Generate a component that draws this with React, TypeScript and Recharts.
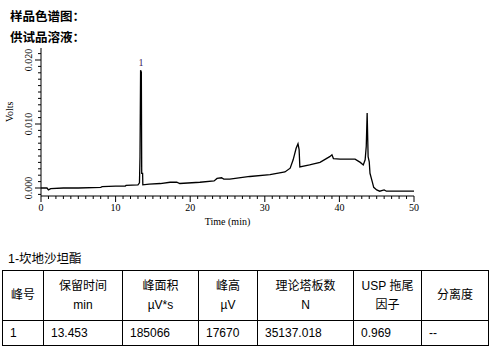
import { LineChart, Line, XAxis, YAxis, ReferenceDot } from 'recharts';

const TIME = [
  0, 0.8, 1.0, 1.3, 3, 5, 8, 8.2, 10, 11.3, 11.4, 13.0, 13.2, 13.27, 13.35, 13.45, 13.5, 13.62, 13.65,
  14.5, 16, 17.3, 18.2, 18.6, 21.3, 23.2, 23.6, 24.2, 24.5, 25.3, 28, 30.7, 32.7, 33.4, 33.8, 34.2,
  34.45, 34.6, 34.7, 36, 37.4, 38.7, 39.0, 39.2, 40.1, 42.1, 42.8, 43.2, 43.45, 43.6, 43.72, 43.85,
  44.0, 44.1, 44.4, 44.6, 45.0, 45.4, 46.0, 46.3, 50,
];
const VOLTS = [
  0.0, 0.0, -0.0003, -0.0001, 0.0, 0.0, 0.0001, 0.0002, 0.0003, 0.0003, 0.0004, 0.0005, 0.0008, 0.0048,
  0.0184, 0.0181, 0.0023, 0.0023, 0.0005,
  0.0006, 0.0007, 0.0009, 0.0009, 0.0007, 0.0009, 0.0011, 0.0015, 0.0016, 0.0014, 0.0014, 0.0018, 0.0021,
  0.0025, 0.0031, 0.0044, 0.0062, 0.0069, 0.006, 0.0033, 0.0036, 0.004, 0.0049, 0.0052, 0.0046, 0.0045,
  0.0045, 0.004, 0.0036, 0.0044, 0.0065, 0.0117, 0.0049, 0.0041, 0.0023, 0.001, 0.0001, -0.0003,
  -0.0005, -0.0003, -0.0005, -0.0005,
];

const X_MAJOR = [0, 10, 20, 30, 40, 50];
const X_LABELS = ['0', '10', '20', '30', '40', '50'];
const Y_MAJOR = [0, 0.01, 0.02];
const Y_LABELS = ['0.000', '0.010', '0.020'];

const PEAK_NAME = '1';
const PEAK_TIME = 13.4;
const PEAK_VOLTS = 0.0184;

const HEADERS = [['峰号'], ['保留时间', 'min'], ['峰面积', 'µV*s'], ['峰高', 'µV'], ['理论塔板数', 'N'], ['USP 拖尾', '因子'], ['分离度']];
const ROW = ['1', '13.453', '185066', '17670', '35137.018', '0.969', '--'];
const COL_W = [41, 79, 76, 59, 96, 68, 67];

const data = TIME.map((t, i) => ({ t, v: VOLTS[i] }));
// minor ticks every 1 min / 0.001 V
const xTicks = Array.from({ length: 51 }, (_, i) => i);
const yTicks = Array.from({ length: 23 }, (_, i) => (i - 1) / 1000);

const serif = '"Liberation Serif", "DejaVu Serif", serif';
const sans = '"Liberation Sans", Arial, "Noto Sans CJK SC", sans-serif';

function XTick({ x, y, payload }: any) {
  const idx = X_MAJOR.indexOf(payload.value);
  const major = idx >= 0;
  return (
    <g>
      <line x1={x} x2={x} y1={y} y2={y + (major ? 6 : 3)} stroke="#000" />
      {major && (
        <text x={x} y={y + 15} textAnchor="middle" fontSize={10} fontFamily={serif} fill="#000">
          {X_LABELS[idx]}
        </text>
      )}
    </g>
  );
}

function YTick({ x, y, payload }: any) {
  const idx = Y_MAJOR.findIndex((m) => Math.abs(m - payload.value) < 1e-7);
  const major = idx >= 0;
  return (
    <g>
      <line x1={x - (major ? 6 : 3)} x2={x} y1={y} y2={y} stroke="#000" />
      {major && (
        <text x={x - 9} y={y} textAnchor="middle" fontSize={10} fontFamily={serif} fill="#000"
          transform={`rotate(-90 ${x - 9} ${y})`}>
          {Y_LABELS[idx]}
        </text>
      )}
    </g>
  );
}

export default function App() {
  return (
    <div style={{ position: 'absolute', left: 0, top: 0, width: 503, height: 352, background: '#fff', fontFamily: sans }}>
      <div style={{ position: 'absolute', left: 10, top: 5, fontSize: 12.5, fontWeight: 'bold', lineHeight: '21px', fontFamily: '"Noto Sans CJK SC", sans-serif', color: '#000' }}>
        <div>样品色谱图：</div>
        <div>供试品溶液：</div>
      </div>
      <div style={{ position: 'absolute', left: 0, top: 0 }}>
        <LineChart width={503} height={230} data={data} margin={{ top: 48, right: 89, bottom: 0, left: 0 }}>
          <XAxis
            dataKey="t" type="number" domain={[0, 50]} ticks={xTicks} interval={0}
            tickSize={0} tickMargin={0} tickLine={false} tick={<XTick />} height={34}
            axisLine={{ stroke: '#000' }}
            label={{ value: 'Time (min)', position: 'insideBottom', offset: 5, fontSize: 10, fontFamily: serif, fill: '#000' }}
          />
          <YAxis
            type="number" domain={[-0.00125, 0.021875]} ticks={yTicks} interval={0}
            tickSize={0} tickMargin={0} tickLine={false} tick={<YTick />} width={41}
            axisLine={{ stroke: '#000' }}
            label={{ value: 'Volts', angle: -90, position: 'insideLeft', offset: 9, fontSize: 10, fontFamily: serif, fill: '#000' }}
          />
          <Line dataKey="v" type="linear" stroke="#000" strokeWidth={1.3} dot={false} isAnimationActive={false} />
          <ReferenceDot x={PEAK_TIME} y={PEAK_VOLTS} r={0}
            label={{ value: PEAK_NAME, position: 'top', offset: 4, fontSize: 10, fontFamily: serif, fill: '#3a1a5a' }} />
        </LineChart>
      </div>
      <div style={{ position: 'absolute', left: 8, top: 248, fontSize: 12.5, color: '#000' }}>1-坎地沙坦酯</div>
      <table style={{ position: 'absolute', left: 2, top: 270, width: 486, borderCollapse: 'collapse', fontSize: 12, color: '#000', tableLayout: 'fixed' }}>
        <colgroup>
          {COL_W.map((w, i) => <col key={i} style={{ width: w }} />)}
        </colgroup>
        <tbody>
          <tr style={{ height: 50 }}>
            {HEADERS.map((h, i) => (
              <td key={i} style={{ border: '1px solid #000', textAlign: 'center', padding: 0, lineHeight: '19px' }}>
                {h.map((line, j) => <div key={j}>{line}</div>)}
              </td>
            ))}
          </tr>
          <tr style={{ height: 25 }}>
            {ROW.map((c, i) => (
              <td key={i} style={{ border: '1px solid #000', padding: '0 0 0 7px' }}>{c}</td>
            ))}
          </tr>
        </tbody>
      </table>
    </div>
  );
}
